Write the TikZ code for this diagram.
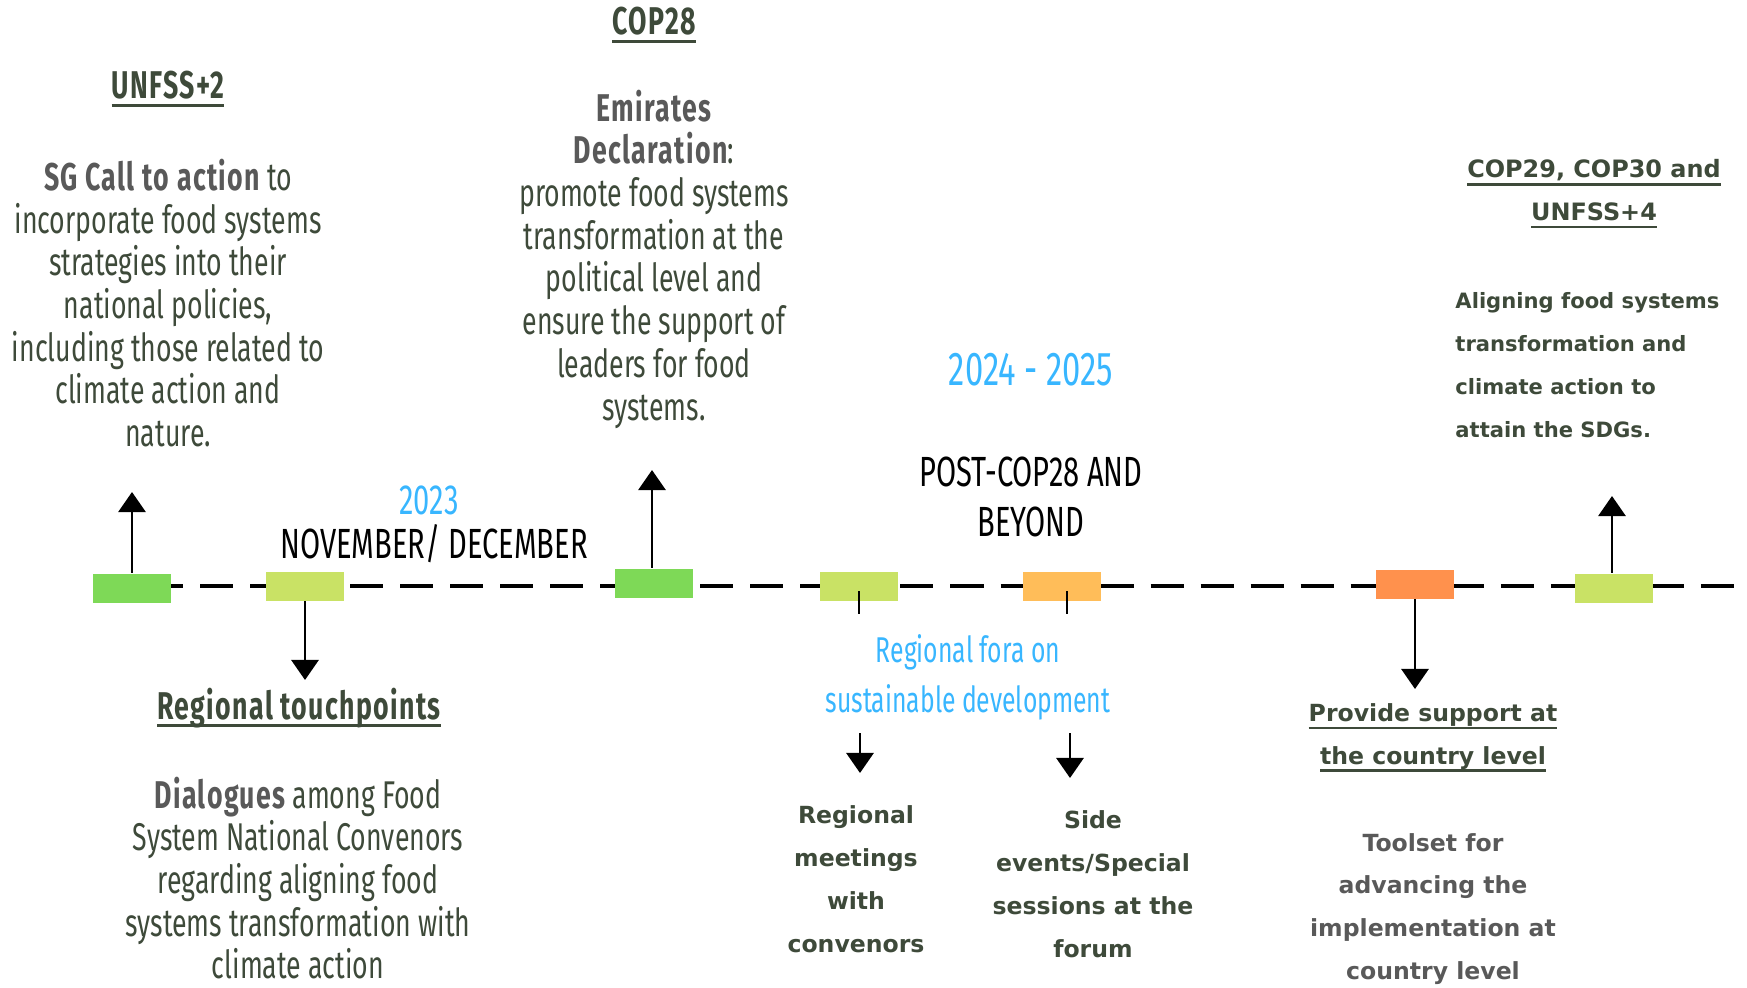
\documentclass[tikz,border=0pt]{standalone}
\usepackage{fontspec}
\setmainfont{Fira Sans}[FakeStretch=0.69, BoldFeatures={LetterSpace=3.5}]
\newfontfamily\widefont{DejaVu Sans}
\usetikzlibrary{arrows.meta}

\definecolor{darkgreen}{HTML}{3E4A3A}
\definecolor{boldgrey}{HTML}{595959}
\definecolor{skyblue}{HTML}{38B6FF}
\definecolor{leaf}{HTML}{7ED957}
\definecolor{lime}{HTML}{C9E265}
\definecolor{peach}{HTML}{FFBD59}
\definecolor{tangerine}{HTML}{FF914D}

\newcommand\ulined[1]{\leavevmode\setbox0\hbox{#1}\rlap{\usebox0}\rule[-2.2pt]{\wd0}{0.8pt}}

\tikzset{
    marker/.style={minimum width=0.78cm, minimum height=0.29cm, inner sep=0pt},
    body/.style={align=center, text=darkgreen, font=\fontsize{11}{12.15}\selectfont},
    heading/.style={text=darkgreen, font=\fontsize{11}{12}\selectfont\bfseries},
    year/.style={text=skyblue, font=\fontsize{12}{14}\selectfont},
    period/.style={align=center, text=black, font=\fontsize{12}{14}\selectfont},
    wide/.style={align=center, text=darkgreen, font=\widefont\fontsize{6.7}{12.2}\selectfont\bfseries},
    pointer/.style={line width=0.8pt, -{Triangle[width=0.27cm, length=0.2cm]}},
    tick/.style={line width=0.8pt},
}

\begin{document}
\begin{tikzpicture}[x=0.01cm, y=-0.01cm]
    \useasboundingbox (0,0) rectangle (1747,987);

    % timeline
    \coordinate (lineStart) at (100,586);
    \coordinate (lineEnd) at (1747,586);
    \draw[line width=1.1pt, dash pattern=on 0.33cm off 0.17cm] (lineStart) -- (lineEnd);

    \node[marker, fill=leaf] (unfss) at (132,588) {};
    \node[marker, fill=lime] (touch) at (305,586) {};
    \node[marker, fill=leaf] (cop) at (654,583) {};
    \node[marker, fill=lime] (meet) at (859,586) {};
    \node[marker, fill=peach] (side) at (1062,586) {};
    \node[marker, fill=tangerine] (country) at (1415,584) {};
    \node[marker, fill=lime] (future) at (1614,588) {};

    \coordinate (unfssTip) at (132,492);
    \coordinate (touchTip) at (305,680);
    \coordinate (copTip) at (652,470);
    \coordinate (meetTick) at (859,614);
    \coordinate (sideTick) at (1067,614);
    \coordinate (countryTip) at (1415,689);
    \coordinate (futureTip) at (1612,496);
    \draw[pointer] (unfss) -- (unfssTip);
    \draw[pointer] (touch) -- (touchTip);
    \draw[pointer] (cop.north -| copTip) -- (copTip);
    \draw[tick] ([yshift=0.1cm]meet.south) -- (meetTick);
    \draw[tick] ([yshift=0.1cm]side.south -| sideTick) -- (sideTick);
    \draw[pointer] (country) -- (countryTip);
    \draw[pointer] (future.north -| futureTip) -- (futureTip);

    % texts above the line
    \node[heading] (unfssTitle) at (168,89) {\ulined{UNFSS+2}};
    \node[body] (unfssText) at (168,303) {{\bfseries\color{boldgrey}SG Call to action} to\\incorporate food systems\\strategies into their\\national policies,\\including those related to\\climate action and\\nature.};
    \node[heading] (copTitle) at (654,25) {\ulined{COP28}};
    \node[body] (copText) at (654,259) {{\bfseries\color{boldgrey}Emirates}\\{\bfseries\color{boldgrey}Declaration}:\\promote food systems\\transformation at the\\political level and\\ensure the support of\\leaders for food\\systems.};
    \node[year] (firstYear) at (429,500) {2023};
    \node[period] (firstPeriod) at (434,544) {NOVEMBER/ DECEMBER};
    \node[year, font=\fontsize{13.5}{15}\selectfont] (secondYear) at (1031,370) {2024 - 2025};
    \node[period] (secondPeriod) at (1031,497) {POST-COP28 AND\\BEYOND};
    \node[wide, font=\widefont\fontsize{6.8}{12.2}\selectfont\bfseries] (futureTitle) at (1594,194) {\ulined{COP29, COP30 and}\\\ulined{UNFSS+4}};
    \node[wide, font=\widefont\fontsize{6}{12.2}\selectfont\bfseries, anchor=west, align=left] (futureText) at (1443,365) {Aligning food systems\\transformation and\\climate action to\\attain the SDGs.};

    % texts below the line
    \node[heading] (touchTitle) at (299,708) {\ulined{Regional touchpoints}};
    \node[body] (touchText) at (298,878) {{\bfseries\color{boldgrey}Dialogues} among Food\\System National Convenors\\regarding aligning food\\systems transformation with\\climate action};
    \node[body, text=skyblue, font=\fontsize{10.2}{14.2}\selectfont] (fora) at (968,677) {Regional fora on\\sustainable development};
    \coordinate (foraLeft) at (860,733);
    \coordinate (foraRight) at (1070,733);
    \coordinate (meetTip) at (860,773);
    \coordinate (sideTip) at (1070,778);
    \draw[pointer] (foraLeft) -- (meetTip);
    \draw[pointer] (foraRight) -- (sideTip);
    \node[wide] (meetText) at (856,879) {Regional\\meetings\\with\\convenors};
    \node[wide] (sideText) at (1093,884) {Side\\events/Special\\sessions at the\\forum};
    \node[wide] (countryTitle) at (1433,738) {\ulined{Provide support at}\\\ulined{the country level}};
    \node[wide, text=boldgrey] (countryText) at (1433,909) {Toolset for\\advancing the\\implementation at\\country level};
\end{tikzpicture}
\end{document}
